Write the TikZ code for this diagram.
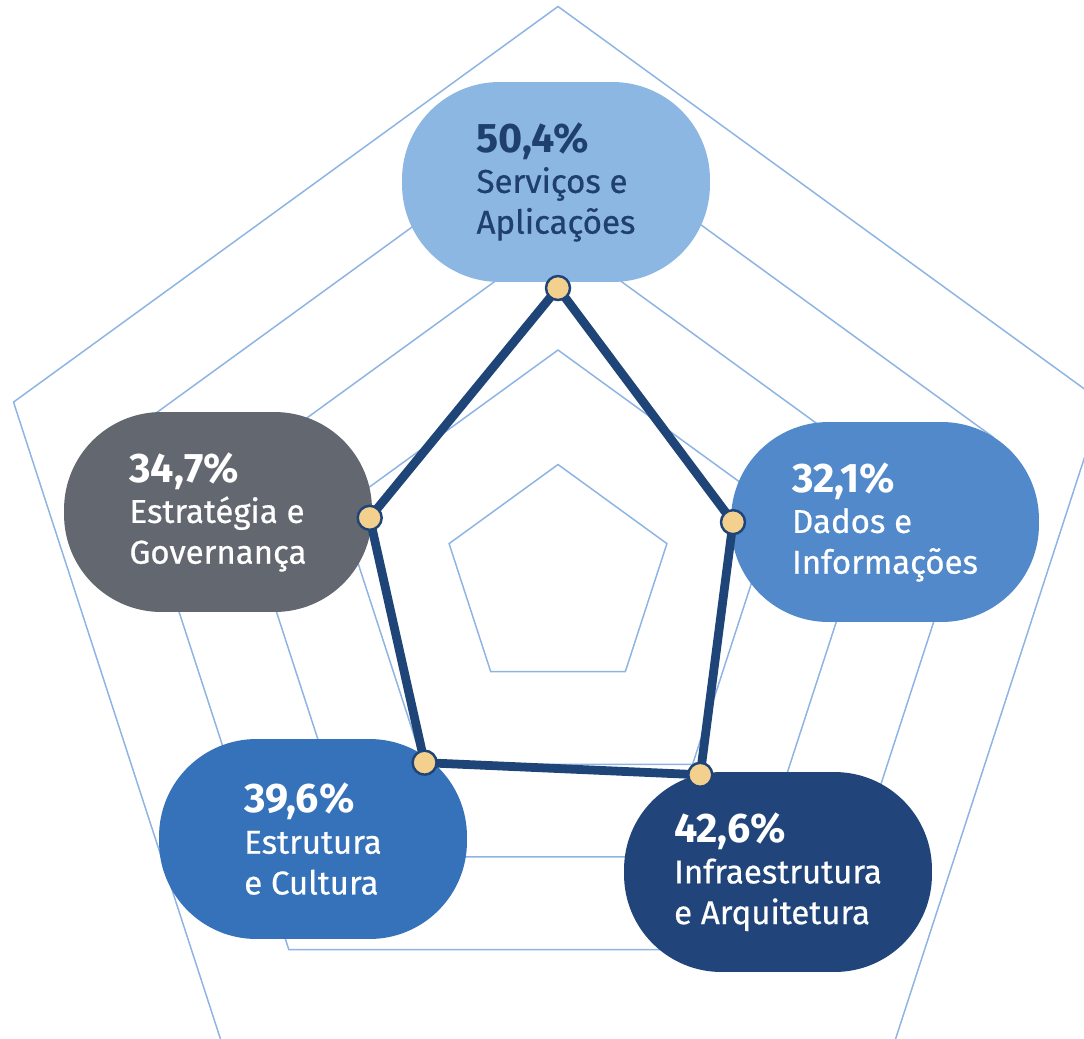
\documentclass[tikz,border=0pt]{standalone}
\usepackage{fontspec}
\setmainfont{Fira Sans}
\newfontfamily\labelfont{Fira Sans}[FakeBold=0.6]
\usetikzlibrary{calc}

\definecolor{GridBlue}{RGB}{142,180,227}
\definecolor{LineNavy}{RGB}{31,68,119}
\definecolor{DotFill}{RGB}{243,208,142}
\definecolor{ServFill}{RGB}{141,183,227}
\definecolor{ServText}{RGB}{31,63,110}
\definecolor{EstrFill}{RGB}{99,103,111}
\definecolor{DadosFill}{RGB}{81,137,202}
\definecolor{CultFill}{RGB}{53,114,186}
\definecolor{InfraFill}{RGB}{33,69,122}

\tikzset{%
	% Style of the grid pentagons
	Grid/.style={draw=GridBlue,line width=0.85pt},
	% Style of the category box
	Box/.style={rounded corners=1.95cm,minimum width=6.16cm,minimum height=4cm,inner sep=0,
		align=left,text=white,font=\labelfont\fontsize{18.8}{23.2}\selectfont},
	% Style of the data polygon
	DataLine/.style={draw=LineNavy,line width=5pt,line join=round},
	% Style of the data point
	Dot/.style={circle,fill=DotFill,draw=LineNavy,line width=1.4pt,inner sep=0,minimum size=0.48cm},
}
\newcommand{\Pct}[1]{{\fontsize{23.5}{23.2}\selectfont\rmfamily\bfseries #1}}

\begin{document}
\begin{tikzpicture}[x=0.02cm,y=-0.02cm]
\useasboundingbox (0,0) rectangle (1084,1038);

%~~~~~~~~~~~~~~~~~~~~~~~~~~~~~~~~~~~~~~~~~~~~~~~~~
% Set Grid
%~~~~~~~~~~~~~~~~~~~~~~~~~~~~~~~~~~~~~~~~~~~~~~~~~~
\begin{scope}
\clip (0,0) rectangle (1084,1038);
\begin{scope}[shift={(558,579)}]
\draw[Grid] (-90:114.5) -- (-18:114.5) -- (54:114.5) -- (126:114.5) -- (198:114.5) -- cycle;
\draw[Grid] (-90:229) -- (-18:229) -- (54:229) -- (126:229) -- (198:229) -- cycle;
\draw[Grid] (-90:343.5) -- (-18:343.5) -- (54:343.5) -- (126:343.5) -- (198:343.5) -- cycle;
\draw[Grid] (-90:458) -- (-18:458) -- (54:458) -- (126:458) -- (198:458) -- cycle;
\draw[Grid] (-90:572.5) -- (-18:572.5) -- (54:572.5) -- (126:572.5) -- (198:572.5) -- cycle;
\end{scope}
\end{scope}

%~~~~~~~~~~~~~~~~~~~~~~~~~~~~~~~~~~~~~~~~~~~~~~~~~~
% Set Boxes
%~~~~~~~~~~~~~~~~~~~~~~~~~~~~~~~~~~~~~~~~~~~~~~~~~~
\node[Box,fill=ServFill,text=ServText] (Serv) at (556,182) {\Pct{50,4\%}\\Serviços e\\Aplicações};

\node[Box,fill=EstrFill] (Estr) at (218,512) {\Pct{34,7\%}\\Estratégia e\\Governança};

\node[Box,fill=DadosFill] (Dados) at (885,522) {\Pct{32,1\%}\\Dados e\\Informações};

\node[Box,fill=CultFill] (Cult) at (313,839) {\Pct{39,6\%}\\Estrutura\\e Cultura};

\node[Box,fill=InfraFill] (Infra) at (778,872) {\Pct{42,6\%}\\Infraestrutura\\e Arquitetura};

%~~~~~~~~~~~~~~~~~~~~~~~~~~~~~~~~~~~~~~~~~~~~~~~~~~
% Set Data
%~~~~~~~~~~~~~~~~~~~~~~~~~~~~~~~~~~~~~~~~~~~~~~~~~~
\begin{scope}[shift={(558,579)}]
\coordinate (pServ) at (-90:291);
\coordinate (pDados) at (-18:184);
\coordinate (pInfra) at (54:242);
\coordinate (pCult) at (126:227);
\coordinate (pEstr) at (198:198);
\end{scope}

% Polygon through the values
\draw[DataLine] (pServ) -- (pDados) -- (pInfra) -- (pCult) -- (pEstr) -- cycle;

\node[Dot] (dServ) at (pServ) {};
\node[Dot] (dDados) at (pDados) {};
\node[Dot] (dInfra) at (pInfra) {};
\node[Dot] (dCult) at (pCult) {};
\node[Dot] (dEstr) at (pEstr) {};

\end{tikzpicture}
\end{document}
